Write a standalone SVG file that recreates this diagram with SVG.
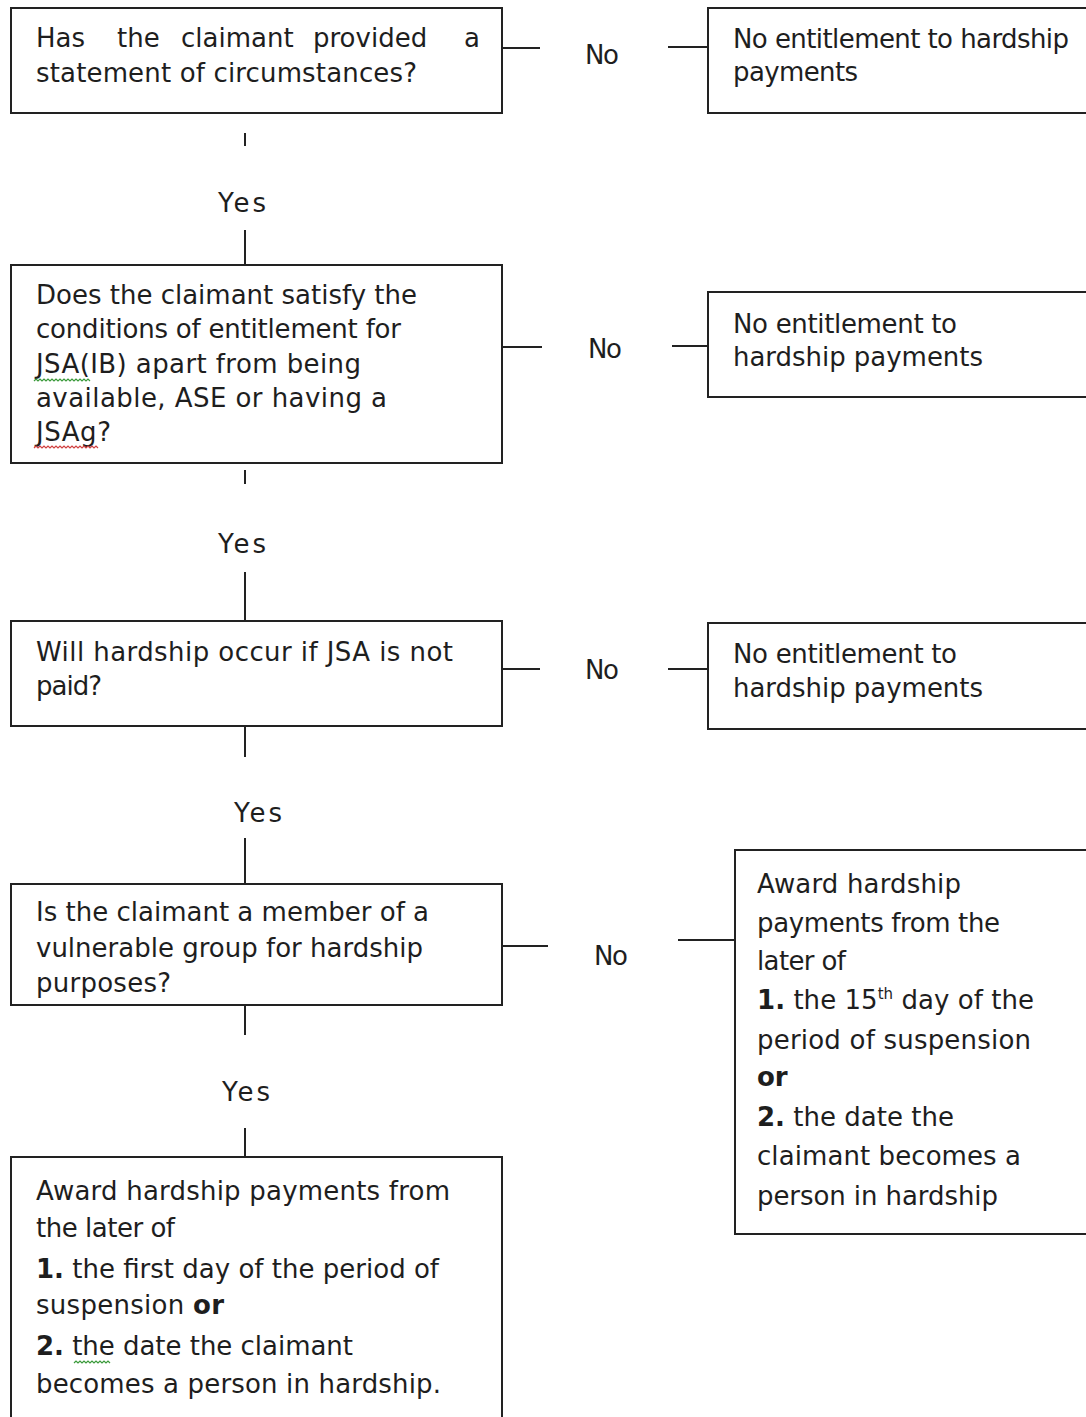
<svg xmlns="http://www.w3.org/2000/svg" width="1086" height="1417" viewBox="0 0 1086 1417">
<style>
.box{fill:#fff;stroke:#222;stroke-width:2}
.ln{stroke:#222;stroke-width:2;fill:none}
text{font-family:"DejaVu Sans","Liberation Sans",sans-serif;font-size:26px;fill:#1e1e1e}
.b{font-weight:bold}
.sq{fill:none;stroke-width:1.2}
</style>
<rect width="1086" height="1417" fill="#fff"/>
<g id="connectors">
  <line class="ln" x1="502" y1="48" x2="540" y2="48"/>
  <line class="ln" x1="668" y1="47" x2="708" y2="47"/>
  <line class="ln" x1="245" y1="133" x2="245" y2="146"/>
  <line class="ln" x1="245" y1="230" x2="245" y2="265"/>
  <line class="ln" x1="502" y1="347" x2="542" y2="347"/>
  <line class="ln" x1="672" y1="346" x2="708" y2="346"/>
  <line class="ln" x1="245" y1="470" x2="245" y2="484"/>
  <line class="ln" x1="245" y1="572" x2="245" y2="621"/>
  <line class="ln" x1="502" y1="669" x2="540" y2="669"/>
  <line class="ln" x1="668" y1="669" x2="708" y2="669"/>
  <line class="ln" x1="245" y1="726" x2="245" y2="757"/>
  <line class="ln" x1="245" y1="838" x2="245" y2="884"/>
  <line class="ln" x1="502" y1="946" x2="548" y2="946"/>
  <line class="ln" x1="678" y1="940" x2="735" y2="940"/>
  <line class="ln" x1="245" y1="1005" x2="245" y2="1035"/>
  <line class="ln" x1="245" y1="1128" x2="245" y2="1157"/>
  <text x="585" y="64" textLength="34">No</text>
  <text x="218" y="212" textLength="48">Yes</text>
  <text x="588" y="358" textLength="34">No</text>
  <text x="218" y="553" textLength="48">Yes</text>
  <text x="585" y="679" textLength="34">No</text>
  <text x="234" y="822" textLength="48">Yes</text>
  <text x="594" y="965" textLength="34">No</text>
  <text x="222" y="1101" textLength="48">Yes</text>
</g>
<g id="q1">
  <rect class="box" x="11" y="8" width="491" height="105"/>
  <text y="47"><tspan x="36">Has</tspan><tspan x="117">the</tspan><tspan x="181">claimant</tspan><tspan x="313">provided</tspan><tspan x="464">a</tspan></text>
  <text x="36" y="82" textLength="381">statement of circumstances?</text>
</g>
<g id="r1">
  <rect class="box" x="708" y="8" width="390" height="105"/>
  <text x="733" y="48" textLength="336">No entitlement to hardship</text>
  <text x="733" y="81" textLength="125">payments</text>
</g>
<g id="q2">
  <rect class="box" x="11" y="265" width="491" height="198"/>
  <text x="36" y="304" textLength="381">Does the claimant satisfy the</text>
  <text x="36" y="338" textLength="365">conditions of entitlement for</text>
  <text x="36" y="373" textLength="325">JSA(IB) apart from being</text>
  <text x="36" y="407" textLength="351">available, ASE or having a</text>
  <text x="36" y="441" textLength="75">JSAg?</text>
  <path class="sq" stroke="#3a9a3a" d="M34 381 l2 -2 l2 2 l2 -2 l2 2 l2 -2 l2 2 l2 -2 l2 2 l2 -2 l2 2 l2 -2 l2 2 l2 -2 l2 2 l2 -2 l2 2 l2 -2 l2 2 l2 -2 l2 2 l2 -2 l2 2 l2 -2 l2 2 l2 -2 l2 2 l2 -2 l2 2"/>
  <path class="sq" stroke="#d04040" d="M34 448 l2 -2 l2 2 l2 -2 l2 2 l2 -2 l2 2 l2 -2 l2 2 l2 -2 l2 2 l2 -2 l2 2 l2 -2 l2 2 l2 -2 l2 2 l2 -2 l2 2 l2 -2 l2 2 l2 -2 l2 2 l2 -2 l2 2 l2 -2 l2 2 l2 -2 l2 2 l2 -2 l2 2 l2 -2 l2 2"/>
</g>
<g id="r2">
  <rect class="box" x="708" y="292" width="390" height="105"/>
  <text x="733" y="333" textLength="224">No entitlement to</text>
  <text x="733" y="366" textLength="250">hardship payments</text>
</g>
<g id="q3">
  <rect class="box" x="11" y="621" width="491" height="105"/>
  <text x="36" y="661" textLength="417">Will hardship occur if JSA is not</text>
  <text x="36" y="695" textLength="66">paid?</text>
</g>
<g id="r3">
  <rect class="box" x="708" y="623" width="390" height="106"/>
  <text x="733" y="663" textLength="224">No entitlement to</text>
  <text x="733" y="697" textLength="250">hardship payments</text>
</g>
<g id="q4">
  <rect class="box" x="11" y="884" width="491" height="121"/>
  <text x="36" y="921" textLength="393">Is the claimant a member of a</text>
  <text x="36" y="957" textLength="387">vulnerable group for hardship</text>
  <text x="36" y="992" textLength="135">purposes?</text>
</g>
<g id="r4">
  <rect class="box" x="735" y="850" width="363" height="384"/>
  <text x="757" y="893" textLength="204">Award hardship</text>
  <text x="757" y="932" textLength="243">payments from the</text>
  <text x="757" y="970" textLength="89">later of</text>
  <text x="757" y="1009" textLength="277"><tspan class="b">1.</tspan> the 15<tspan font-size="15" dy="-10">th</tspan><tspan dy="10"> day of the</tspan></text>
  <text x="757" y="1049" textLength="274">period of suspension</text>
  <text x="757" y="1086" class="b">or</text>
  <text x="757" y="1126" textLength="197"><tspan class="b">2.</tspan> the date the</text>
  <text x="757" y="1165" textLength="264">claimant becomes a</text>
  <text x="757" y="1205" textLength="241">person in hardship</text>
</g>
<g id="a5">
  <rect class="box" x="11" y="1157" width="491" height="280"/>
  <text x="36" y="1200" textLength="414">Award hardship payments from</text>
  <text x="36" y="1237" textLength="139">the later of</text>
  <text x="36" y="1278" textLength="403"><tspan class="b">1.</tspan> the first day of the period of</text>
  <text x="36" y="1314" textLength="188">suspension <tspan class="b">or</tspan></text>
  <text x="36" y="1355" textLength="317"><tspan class="b">2.</tspan> the date the claimant</text>
  <text x="36" y="1393" textLength="405">becomes a person in hardship.</text>
  <path class="sq" stroke="#3a9a3a" d="M74 1363 l2 -2 l2 2 l2 -2 l2 2 l2 -2 l2 2 l2 -2 l2 2 l2 -2 l2 2 l2 -2 l2 2 l2 -2 l2 2 l2 -2 l2 2 l2 -2 l2 2"/>
</g>
</svg>
